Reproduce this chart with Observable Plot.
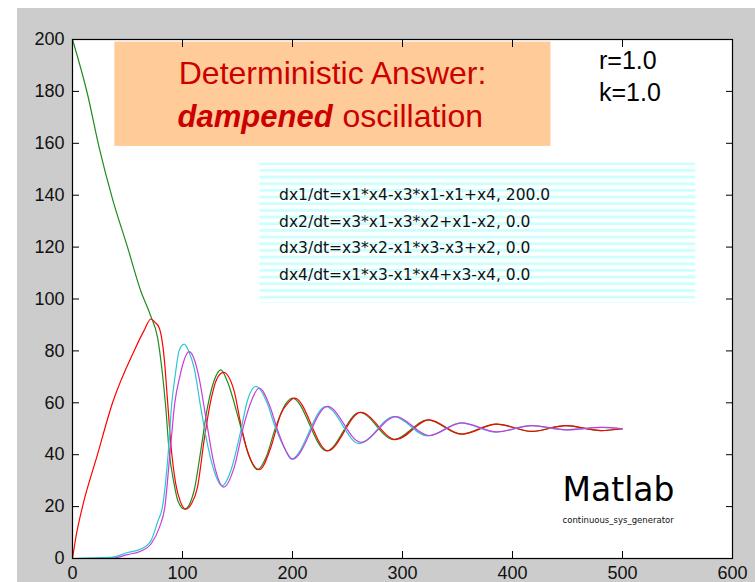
<!DOCTYPE html>
<html>
<head>
<meta charset="utf-8">
<script src="https://cdn.jsdelivr.net/npm/d3@7"></script>
<script src="https://cdn.jsdelivr.net/npm/@observablehq/plot@0.6"></script>
<style>
  html, body { margin: 0; padding: 0; background: #ffffff; }
  #chart svg { display: block; }
</style>
</head>
<body>
<div id="chart"></div>
<script>
// ---- Data ----
const xTicks = [0, 100, 200, 300, 400, 500, 600];
const yTicks = [0, 20, 40, 60, 80, 100, 120, 140, 160, 180, 200];

// x1 (green)
const x1Time  = [0, 13.6, 24.2, 36.4, 50, 62, 71, 77.3, 81.8, 84.8, 87.8, 92.4, 96, 102, 110.5, 116.6, 122.7, 128.7, 134.8, 141, 151.5, 160, 168.2, 176, 185, 193, 200, 231, 261, 292, 323, 353, 385, 417, 448, 480, 500];
const x1Value = [200, 179, 158.4, 138.5, 120, 103.2, 93.6, 85.2, 71, 58.2, 41.5, 28.7, 22, 19, 26.1, 41.5, 58.2, 68.5, 72.7, 68, 53, 40, 34.2, 39, 51, 59, 61.8, 41.5, 56.3, 45.8, 53.4, 47.9, 51.8, 49.0, 51.2, 49.3, 50];

// x2 (red)
const x2Time  = [0, 3, 9.1, 22.7, 36.4, 56, 65, 71.2, 75, 78.7, 83.3, 86.4, 89.4, 93.9, 98, 103, 108, 113.6, 119.6, 125.7, 131, 137.2, 146.9, 153, 159, 170, 180.3, 189.4, 196, 202, 232, 262, 294, 324, 354, 386, 418, 449, 481, 500];
const x2Value = [0, 8, 20, 40, 60, 80, 87.8, 92.3, 91, 89, 77.5, 60.8, 44, 28.7, 22, 19, 21, 27.4, 45.4, 60.8, 69, 71.7, 64.6, 51.8, 41.5, 34.2, 42.8, 55.7, 60, 61.8, 41.5, 56.3, 45.8, 53.4, 47.9, 51.8, 49.0, 51.2, 49.3, 50];

// x3 (cyan)
const x3Time  = [0, 34.8, 50, 62, 71.2, 77.3, 81.8, 86.9, 90.3, 93.5, 96.9, 101.5, 105.5, 110.5, 116.6, 122.7, 128.7, 136, 143.9, 153, 159, 166.6, 177.3, 183.3, 192.4, 199, 230.3, 260.6, 292.4, 322.7, 353, 384.8, 416.6, 448, 480, 500];
const x3Value = [0, 0.4, 2.3, 3.6, 6.8, 14, 20, 40, 60, 71, 80, 82.6, 80, 73.6, 58.2, 44, 33.8, 28, 33.8, 49.2, 60.8, 66.3, 59.5, 51.8, 42.8, 38.3, 58.5, 44.3, 54.7, 47.2, 52.3, 48.7, 51.2, 49.6, 50.5, 50];

// x4 (magenta)
const x4Time  = [0, 34.8, 50, 62, 71.2, 79, 84, 88.5, 93, 97.5, 101.5, 106, 110.5, 115, 121.2, 128.7, 137.5, 146.9, 156, 162, 169.7, 180, 186, 194, 200, 231.8, 262, 294, 324, 354, 386, 418, 449, 481, 500];
const x4Value = [0, 0, 1.5, 2.8, 5.5, 12, 20, 40, 60, 70, 76.5, 79.7, 77, 69.8, 54.4, 36.4, 27.5, 35, 51.8, 60, 65.7, 58, 50, 41.5, 38.3, 58.6, 44.8, 54.7, 47.4, 52.3, 48.8, 51.2, 49.6, 50.5, 50];

// Annotation texts
const headingLine1 = "Deterministic Answer:";
const headingEmph = "dampened";
const headingRest = "oscillation";
const paramLines = ["r=1.0", "k=1.0"];
const equationLines = [
  "dx1/dt=x1*x4-x3*x1-x1+x4, 200.0",
  "dx2/dt=x3*x1-x3*x2+x1-x2, 0.0",
  "dx3/dt=x3*x2-x1*x3-x3+x2, 0.0",
  "dx4/dt=x1*x3-x1*x4+x3-x4, 0.0"
];
const toolName = "Matlab";
const toolSub = "continuous_sys_generator";

// ---- Build series table ----
function series(name, T, V) { return T.map((t, i) => ({series: name, t, v: V[i]})); }
const sx1 = series("x1", x1Time, x1Value);
const sx2 = series("x2", x2Time, x2Value);
const sx3 = series("x3", x3Time, x3Value);
const sx4 = series("x4", x4Time, x4Value);

// ---- Helper render marks ----
function greyBackdrop(index, scales, values, dims) {
  const g = d3.create("svg:g");
  g.append("rect").attr("x", 17).attr("y", 8)
    .attr("width", dims.width - 17).attr("height", dims.height - 8)
    .attr("fill", "#cccccc");
  return g.node();
}
function stripeDefs() {
  const defs = d3.create("svg:defs");
  const p = defs.append("pattern").attr("id", "eqStripes")
    .attr("patternUnits", "userSpaceOnUse")
    .attr("x", 0).attr("y", 162.3).attr("width", 8).attr("height", 6.67);
  p.append("rect").attr("x", 0).attr("y", 0).attr("width", 8).attr("height", 2.8).attr("fill", "#ccffff");
  return defs.node();
}

const lineOpts = {x: "t", y: "v", curve: "monotone-x", strokeWidth: 1.2};

const chart = Plot.plot({
  width: 755,
  height: 582,
  marginLeft: 72,
  marginRight: 23,
  marginTop: 39,
  marginBottom: 24,
  style: {background: "#ffffff", fontFamily: "Liberation Sans", color: "#111"},
  x: {domain: [0, 600]},
  y: {domain: [0, 200]},
  marks: [
    greyBackdrop,
    stripeDefs,
    Plot.frame({fill: "#ffffff", stroke: "none"}),
    // orange heading box
    Plot.rect([0], {x1: 38.5, x2: 435, y1: 158.8, y2: 199, fill: "#ffcc99"}),
    Plot.text([headingLine1], {x: 236.4, y: 182.9, text: d => d, textAnchor: "middle", lineAnchor: "bottom",
      fontSize: 32, fill: "#cc0000", fontFamily: "Liberation Sans"}),
    Plot.text([headingEmph], {x: 95.5, y: 166.2, text: d => d, textAnchor: "start", lineAnchor: "bottom",
      fontSize: 31, fontWeight: "bold", fontStyle: "italic", fill: "#cc0000", fontFamily: "Liberation Sans"}),
    Plot.text([headingRest], {x: 245.5, y: 166.2, text: d => d, textAnchor: "start", lineAnchor: "bottom",
      fontSize: 32, fill: "#cc0000", fontFamily: "Liberation Sans"}),
    // parameters (baseline of last line)
    Plot.text([paramLines.join("\n")], {x: 478.6, y: 176.4, text: d => d, textAnchor: "start", lineAnchor: "bottom",
      lineHeight: 1.27, fontSize: 25, fill: "#000", fontFamily: "Liberation Sans"}),
    // striped equation box
    Plot.rect([0], {x1: 170.3, x2: 566.6, y1: 98.3, y2: 152.4, fill: "url(#eqStripes)"}),
    Plot.text([equationLines.join("\n")], {x: 187.8, y: 107.3, text: d => d, textAnchor: "start", lineAnchor: "bottom",
      lineHeight: 1.72, fontSize: 15.5, fill: "#111", fontFamily: "DejaVu Sans"}),
    // Matlab label
    Plot.text([toolName], {x: 445.5, y: 22.0, text: d => d, textAnchor: "start", lineAnchor: "bottom",
      fontSize: 33, fill: "#000", fontFamily: "DejaVu Sans"}),
    Plot.text([toolSub], {x: 445.5, y: 13.6, text: d => d, textAnchor: "start", lineAnchor: "bottom",
      fontSize: 8.5, fill: "#111", fontFamily: "DejaVu Sans"}),
    // series
    Plot.line(sx1, {...lineOpts, stroke: "#1e8c1e"}),
    Plot.line(sx2, {...lineOpts, stroke: "#ff0000"}),
    Plot.line(sx3, {...lineOpts, stroke: "#2cc8cc"}),
    Plot.line(sx4, {...lineOpts, stroke: "#c83cdc"}),
    // axes (MATLAB style inward ticks)
    Plot.axisX({anchor: "bottom", ticks: xTicks, tickSize: -7, tickPadding: 15, fontSize: 18, label: null, stroke: "#000", fill: "#111"}),
    Plot.axisX({anchor: "top", ticks: xTicks, tickSize: -7, tickFormat: () => "", label: null, stroke: "#000"}),
    Plot.axisY({anchor: "left", ticks: yTicks, tickSize: -7, tickPadding: 15, fontSize: 18, label: null, stroke: "#000", fill: "#111"}),
    Plot.axisY({anchor: "right", ticks: yTicks, tickSize: -7, tickFormat: () => "", label: null, stroke: "#000"}),
    Plot.frame({stroke: "#000", strokeWidth: 1.2})
  ]
});
document.getElementById("chart").appendChild(chart);
</script>
</body>
</html>
